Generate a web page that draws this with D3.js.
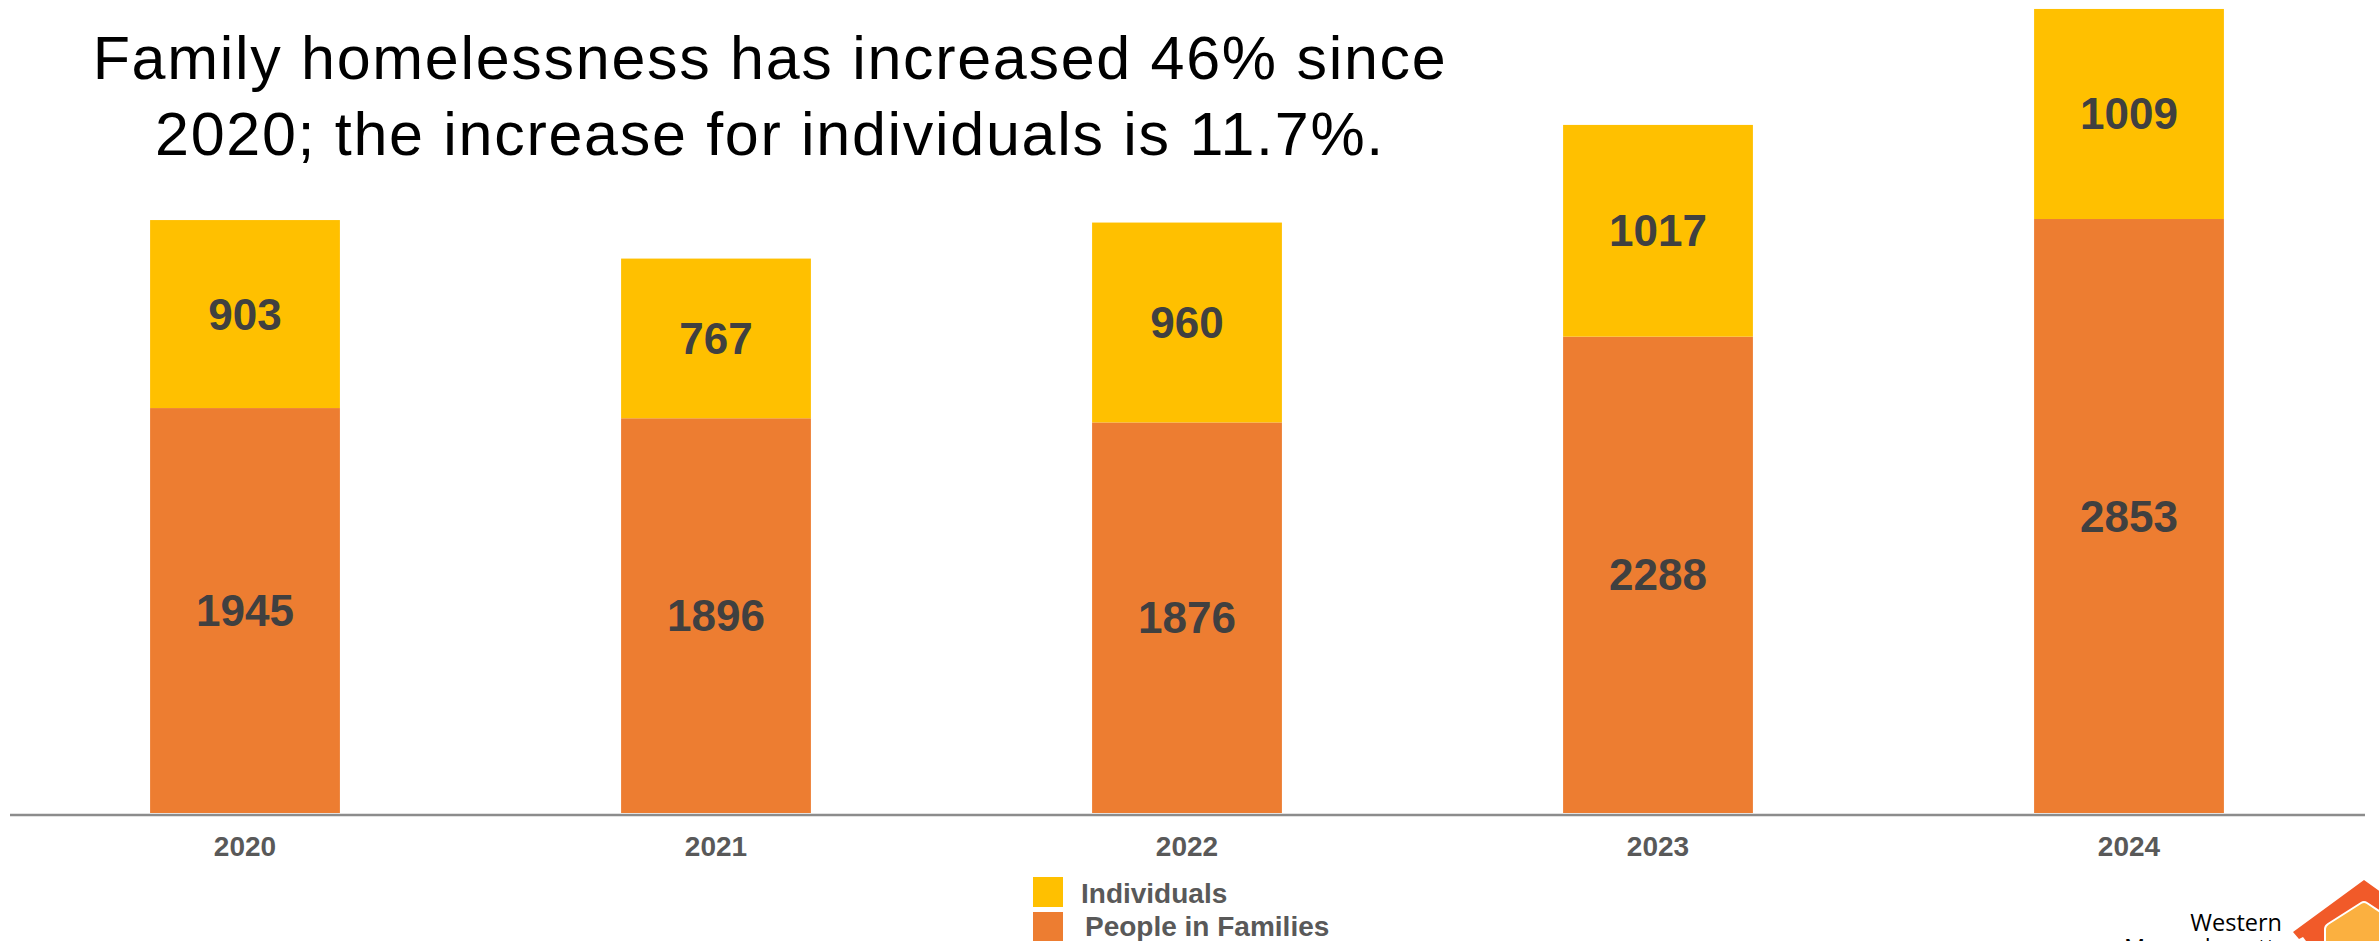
<!DOCTYPE html>
<html>
<head>
<meta charset="utf-8">
<script src="https://cdn.jsdelivr.net/npm/d3@7/dist/d3.min.js"></script>
<style>
  html, body { margin: 0; padding: 0; background: #ffffff; }
  svg { display: block; }
</style>
</head>
<body>
<svg id="chart" width="2379" height="941"></svg>
<script>
// Point-in-time counts by year
const years = ["2020", "2021", "2022", "2023", "2024"];
const peopleInFamilies = [1945, 1896, 1876, 2288, 2853];
const individuals = [903, 767, 960, 1017, 1009];
const seriesNames = ["People in Families", "Individuals"];
const seriesColors = ["#ED7D31", "#FFC000"];
const titleLines = [
  "Family homelessness has increased 46% since",
  "2020; the increase for individuals is 11.7%."
];

const W = 2379, H = 941;
const baseY = 813;
const font = "'Liberation Sans', Arial, Helvetica, sans-serif";

const svg = d3.select("#chart");

const rows = years.map((y, i) => ({
  year: y,
  "People in Families": peopleInFamilies[i],
  "Individuals": individuals[i]
}));

const stack = d3.stack().keys(seriesNames);
const stacked = stack(rows);

const x = d3.scaleBand()
  .domain(years)
  .range([9.5, 2364.5])
  .paddingInner(0.597)
  .paddingOuter(0.2985);

const y = d3.scaleLinear()
  .domain([0, 3905])
  .range([baseY, 0]);

const color = d3.scaleOrdinal().domain(seriesNames).range(seriesColors);

// stacked bars
const layers = svg.append("g").selectAll("g")
  .data(stacked)
  .join("g")
  .attr("fill", d => color(d.key));

layers.selectAll("rect")
  .data(d => d)
  .join("rect")
  .attr("x", d => x(d.data.year))
  .attr("width", x.bandwidth())
  .attr("y", d => y(d[1]))
  .attr("height", d => y(d[0]) - y(d[1]));

// value labels centred in each segment
layers.selectAll("text")
  .data(d => d.map(v => ({ v, key: d.key })))
  .join("text")
  .attr("x", d => x(d.v.data.year) + x.bandwidth() / 2)
  .attr("y", d => (y(d.v[0]) + y(d.v[1])) / 2)
  .attr("text-anchor", "middle")
  .attr("dominant-baseline", "central")
  .attr("font-family", font)
  .attr("font-weight", "bold")
  .attr("font-size", 44)
  .attr("fill", "#404040")
  .text(d => d.v.data[d.key]);

// category axis
const axis = svg.append("g")
  .attr("transform", `translate(0,${baseY + 1.5})`)
  .call(d3.axisBottom(x).tickSizeInner(0).tickSizeOuter(0));
axis.select(".domain")
  .attr("stroke", "#8c8c8c")
  .attr("stroke-width", 2.5);
axis.selectAll(".tick text")
  .attr("y", 41.5)
  .attr("dy", 0)
  .attr("font-family", font)
  .attr("font-weight", "bold")
  .attr("font-size", 28)
  .attr("fill", "#595959");

// title
svg.append("g").selectAll("text")
  .data(titleLines)
  .join("text")
  .attr("x", 770)
  .attr("y", (d, i) => 79 + i * 76)
  .attr("text-anchor", "middle")
  .attr("font-family", font)
  .attr("font-size", 61)
  .attr("letter-spacing", "1.7px")
  .attr("fill", "#000000")
  .text(d => d);

// legend
const legendItems = ["Individuals", "People in Families"];
const legend = svg.append("g");
legend.selectAll("rect")
  .data(legendItems)
  .join("rect")
  .attr("x", 1033)
  .attr("y", (d, i) => 877 + i * 35)
  .attr("width", 30)
  .attr("height", 30)
  .attr("fill", d => color(d));
legend.selectAll("text")
  .data(legendItems)
  .join("text")
  .attr("x", (d, i) => 1081 + i * 4)
  .attr("y", (d, i) => 903 + i * 33)
  .attr("font-family", font)
  .attr("font-weight", "bold")
  .attr("font-size", 28)
  .attr("fill", "#595959")
  .text(d => d);

// organisation mark in the corner
const logo = svg.append("g");
logo.append("path")
  .attr("d", "M2293,932 L2364,880 L2400,906 L2400,941 L2306,941 L2303,937 L2299,939 Z")
  .attr("fill", "#F15A29");
logo.append("path")
  .attr("d", "M2325,945 L2325,929 Q2325,926 2328,924 L2361,903 Q2364,901 2367,903 L2400,925 L2400,945 Z")
  .attr("fill", "#FBB040")
  .attr("stroke", "#ffffff")
  .attr("stroke-width", 2);
logo.append("text")
  .attr("x", 2282)
  .attr("y", 931)
  .attr("text-anchor", "end")
  .attr("font-family", "'Open Sans', 'Noto Sans', sans-serif")
  .attr("font-size", 23.5)
  .attr("fill", "#000000")
  .text("Western");
logo.append("text")
  .attr("x", 2286)
  .attr("y", 956)
  .attr("text-anchor", "end")
  .attr("font-family", "'Open Sans', 'Noto Sans', sans-serif")
  .attr("font-size", 23.5)
  .attr("fill", "#000000")
  .text("Massachusetts");
</script>
</body>
</html>
